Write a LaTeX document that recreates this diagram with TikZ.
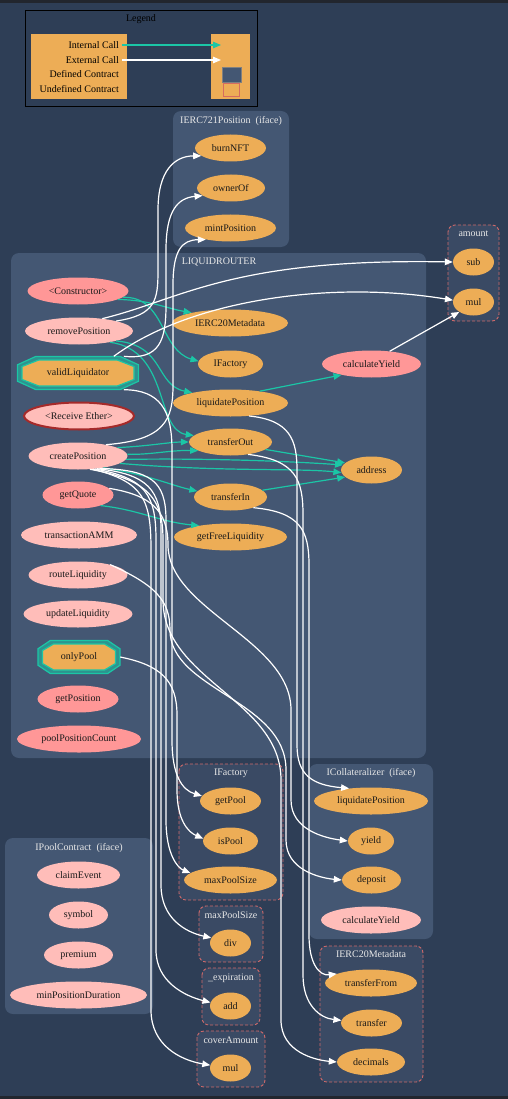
\documentclass[tikz,border=0pt]{standalone}
\usepackage{fontspec}
\setmainfont{Liberation Serif}
\usetikzlibrary{shapes.geometric,arrows.meta,calc}

\definecolor{canvas}{HTML}{2E3E56}
\definecolor{frame}{HTML}{22262E}
\definecolor{contract}{HTML}{445773}
\definecolor{undef}{HTML}{3A4A64}
\definecolor{undefline}{HTML}{D06A6A}
\definecolor{extfn}{HTML}{EDAD56}
\definecolor{pubfn}{HTML}{FF9797}
\definecolor{intfn}{HTML}{FFBDB9}
\definecolor{callint}{HTML}{1BC6A6}
\definecolor{payline}{HTML}{A52A2A}
\definecolor{labeltext}{HTML}{E8E8E8}

% stretched octagon path: centre x, centre y, width, height
\newcommand{\octa}[4]{({#1-0.5*(#3)},{#2-0.25*(#4)}) -- ({#1-0.35*(#3)},{#2-0.5*(#4)}) -- ({#1+0.35*(#3)},{#2-0.5*(#4)}) -- ({#1+0.5*(#3)},{#2-0.25*(#4)}) -- ({#1+0.5*(#3)},{#2+0.25*(#4)}) -- ({#1+0.35*(#3)},{#2+0.5*(#4)}) -- ({#1-0.35*(#3)},{#2+0.5*(#4)}) -- ({#1-0.5*(#3)},{#2+0.25*(#4)}) -- cycle}
% double octagon used for modifiers
\newcommand{\modifierbox}[4]{%
  \draw[callint, line width=1.2pt, fill=callint!55!contract] \octa{#1}{#2}{#3}{#4};
  \draw[callint, line width=1.2pt, fill=extfn] \octa{#1}{#2}{#3-9}{#4-7};}

\begin{document}
\begin{tikzpicture}[x=1pt, y=-1pt,
  font=\fontsize{10}{12}\selectfont,
  fn/.style={ellipse, inner sep=0pt, minimum height=27pt, text=black!90, minimum width=#1},
  xfn/.style={fn=#1, fill=extfn},
  pfn/.style={fn=#1, fill=pubfn},
  ifn/.style={fn=#1, fill=intfn},
  modnode/.style={rectangle, inner sep=0pt, minimum width=#1, minimum height=33pt, text=black!90},
  clab/.style={text=labeltext},
  cbox/.style={fill=contract, rounded corners=8pt},
  ubox/.style={fill=undef, draw=undefline, dash pattern=on 3pt off 2pt, line width=0.9pt, rounded corners=7pt},
  icall/.style={draw=callint, line width=1.2pt, -{Triangle[length=8pt,width=6.5pt]}},
  xcall/.style={draw=white, line width=1.2pt, -{Triangle[length=8pt,width=6.5pt]}},
]
\useasboundingbox (0,0) rectangle (508,1099);
\fill[canvas] (0,0) rectangle (508,1099);
\fill[frame] (0,0) rectangle (508,3);
\fill[frame] (0,1096) rectangle (508,1099);

% ---------- legend ----------
\draw[black, line width=0.8pt] (25,10) rectangle (257,106);
\node[text=black] (lgTitle) at (141,19) {Legend};
\fill[extfn] (31,34) rectangle (127,99);
\fill[extfn] (211,34) rectangle (250,99);
\node[anchor=east, text=black, inner sep=0pt] (lgInt) at (119,45) {Internal Call};
\node[anchor=east, text=black, inner sep=0pt] (lgExt) at (119,60) {External Call};
\node[anchor=east, text=black, inner sep=0pt] (lgDef) at (119,74) {Defined Contract};
\node[anchor=east, text=black, inner sep=0pt] (lgUnd) at (119,89) {Undefined Contract};
\coordinate (lgIntEnd) at (221,45);
\coordinate (lgExtEnd) at (221,60);
\draw[icall] ([xshift=3pt]lgInt.east) -- (lgIntEnd);
\draw[xcall] ([xshift=3pt]lgExt.east) -- (lgExtEnd);
\draw[fill=contract, draw=black!50, line width=0.5pt] (222,67) rectangle (241,82);
\draw[draw=undefline!90!orange, line width=0.6pt] (223,83) rectangle (239,96);

% ---------- contract boxes ----------
\fill[cbox] (173,111) rectangle (289,247);
\node[clab] (labNft) at (231,121) {IERC721Position\ \ (iface)};
\draw[ubox] (448,225) rectangle (499,321);
\node[clab] (labAmount) at (473.5,234) {amount};
\fill[cbox] (11,253) rectangle (426,758);
\node[clab] (labRouter) at (219,262) {LIQUIDROUTER};
\draw[ubox] (179,764) rectangle (283,900);
\node[clab] (labFactory) at (231,773) {IFactory};
\draw[ubox] (199,906) rectangle (263,962);
\node[clab] (labMax) at (231,915) {maxPoolSize};
\draw[ubox] (202,968) rectangle (260,1025);
\node[clab] (labExp) at (231,978) {\_expiration};
\draw[ubox] (197,1031) rectangle (265,1087);
\node[clab] (labCover) at (231,1040) {coverAmount};
\fill[cbox] (309,764) rectangle (433,939);
\node[clab] (labColl) at (371,773) {ICollateralizer\ \ (iface)};
\draw[ubox] (320,946) rectangle (423,1082);
\node[clab] (labErc) at (371,954) {IERC20Metadata};
\fill[cbox] (5,838) rectangle (153,1014);
\node[clab] (labPool) at (79,848) {IPoolContract\ \ (iface)};

% ---------- router functions ----------
\node[pfn=101] (ctor) at (78,291) {<Constructor>};
\node[ifn=108] (rp) at (79,331) {removePosition};
\modifierbox{78}{373}{121}{33}
\node[modnode=121] (vl) at (78,373) {validLiquidator};
\node[ifn=110, draw=payline, line width=2pt] (recv) at (79,416) {<Receive Ether>};
\node[ifn=99] (cp) at (78,456) {createPosition};
\node[pfn=71] (gq) at (78,495) {getQuote};
\node[ifn=116] (amm) at (79,535) {transactionAMM};
\node[ifn=99] (rl) at (78,575) {routeLiquidity};
\node[ifn=109] (ul) at (78,614) {updateLiquidity};
\modifierbox{79}{657}{82}{33}
\node[modnode=82] (op) at (79,657) {onlyPool};
\node[pfn=81] (gp) at (78,699) {getPosition};
\node[pfn=124] (ppc) at (79,739) {poolPositionCount};

\node[xfn=116] (mIERC) at (230,323) {IERC20Metadata};
\node[xfn=65] (mIF) at (230.5,364) {IFactory};
\node[xfn=115] (mLP) at (230.5,403) {liquidatePosition};
\node[xfn=83] (tOut) at (230.5,442) {transferOut};
\node[xfn=73] (tIn) at (230.5,497) {transferIn};
\node[xfn=113] (gfl) at (230.5,537) {getFreeLiquidity};
\node[pfn=99] (cy) at (371.5,364) {calculateYield};
\node[xfn=61] (addr) at (371.5,470) {address};

% ---------- external contracts ----------
\node[xfn=71] (burn) at (230.5,148) {burnNFT};
\node[xfn=68] (owner) at (231,188) {ownerOf};
\node[xfn=91] (mint) at (230.5,228) {mintPosition};
\node[xfn=41] (sub) at (473.5,262) {sub};
\node[xfn=41] (amul) at (473.5,302) {mul};

\node[xfn=61] (getPool) at (230.5,801) {getPool};
\node[xfn=55] (isPool) at (230.5,841) {isPool};
\node[xfn=93] (mps) at (230.5,880) {maxPoolSize};
\node[xfn=41] (div) at (230.5,943) {div};
\node[xfn=41] (add) at (230.5,1006) {add};
\node[xfn=41] (cmul) at (230.5,1068) {mul};

\node[xfn=114] (colLP) at (371,801) {liquidatePosition};
\node[xfn=46] (yield) at (371,841) {yield};
\node[xfn=59] (deposit) at (371.5,880) {deposit};
\node[ifn=100] (ccy) at (371,920) {calculateYield};
\node[xfn=92] (tFrom) at (371,983) {transferFrom};
\node[xfn=61] (transfer) at (371.5,1023) {transfer};
\node[xfn=68] (decimals) at (371,1062) {decimals};

\node[ifn=83] (claim) at (78.5,875) {claimEvent};
\node[ifn=59] (symbol) at (78.5,915) {symbol};
\node[ifn=69] (premium) at (78.5,955) {premium};
\node[ifn=137] (mpd) at (78.5,995) {minPositionDuration};

% ---------- internal calls ----------
\draw[icall] (ctor.-12) .. controls (150,300) and (165,308) .. (mIERC.165);
\draw[icall] (ctor.-8) .. controls (165,296) and (160,350) .. (mIF.175);
\draw[icall] (rp.-15) .. controls (165,345) and (155,385) .. (mLP.165);
\draw[icall] (rp.-20) .. controls (170,350) and (155,430) .. (tOut.170);
\draw[icall] (cp.12) .. controls (150,446) and (170,442) .. (tOut.180);
\draw[icall] (cp.2) .. controls (150,455) and (170,450) .. (tOut.195);
\draw[icall] (cp.-4) .. controls (220,458) and (300,462) .. (addr.170);
\draw[icall] (cp.-10) .. controls (220,472) and (300,468) .. (addr.185);
\draw[icall] (cp.-25) .. controls (150,475) and (170,485) .. (tIn.170);
\draw[icall] (gq.-25) .. controls (140,510) and (160,522) .. (gfl.160);
\draw[icall] (mLP.22) -- (cy.200);
\draw[icall] (tOut.-12) -- (addr.165);
\draw[icall] (tIn.12) -- (addr.195);

% ---------- external calls: up to the NFT contract and amount ----------
\draw[xcall] (rp.15) .. controls (156,315) and (158,300) .. (158,270)
  -- (158,210) .. controls (158,170) and (175,156) .. (burn.195);
\draw[xcall] (vl.20) .. controls (160,360) and (166,340) .. (166,305)
  -- (166,250) .. controls (166,210) and (178,198) .. (owner.195);
\draw[xcall] (cp.22) .. controls (165,440) and (173,420) .. (173,385)
  -- (173,285) .. controls (173,250) and (182,240) .. (mint.205);
\draw[xcall] (rp.28) .. controls (180,300) and (230,258) .. (sub.180);
\draw[xcall] (vl.25) .. controls (190,300) and (330,280) .. (amul.175);
\draw[xcall] (cy.35) -- (amul.215);

% ---------- external calls: left lane, down to the factory and math ----------
\draw[xcall] (vl.-20) .. controls (160,390) and (172,410) .. (172,450)
  -- (172,740) .. controls (172,775) and (182,790) .. (getPool.170);
\draw[xcall] (op.east) .. controls (160,665) and (177,680) .. (177,715)
  -- (177,790) .. controls (177,820) and (188,832) .. (isPool.175);
\draw[xcall] (cp.-30) .. controls (150,470) and (166,480) .. (166,520)
  -- (166,820) .. controls (166,855) and (178,868) .. (mps.170);
\draw[xcall] (cp.-34) .. controls (148,474) and (161,490) .. (161,530)
  -- (161,885) .. controls (161,918) and (185,932) .. (div.165);
\draw[xcall] (cp.-38) .. controls (146,478) and (156,495) .. (156,540)
  -- (156,950) .. controls (156,982) and (185,996) .. (add.170);
\draw[xcall] (cp.-42) .. controls (144,482) and (151,500) .. (151,550)
  -- (151,1010) .. controls (151,1045) and (180,1060) .. (cmul.172);

% ---------- external calls: right lane, down to collateralizer and token ----------
\draw[xcall] (mLP.-35) .. controls (290,420) and (297,440) .. (297,470)
  -- (297,745) .. controls (297,775) and (312,785) .. (colLP.150);
\draw[xcall] (tOut.-35) .. controls (296,460) and (303,480) .. (303,515)
  -- (303,975) .. controls (303,1005) and (320,1018) .. (transfer.175);
\draw[xcall] (tIn.-25) .. controls (300,512) and (309,530) .. (309,565)
  -- (309,935) .. controls (309,965) and (320,976) .. (tFrom.165);
\draw[xcall] (gq.12) .. controls (150,495) and (168,510) .. (168,545)
  .. controls (168,610) and (291,640) .. (291,710) -- (291,800)
  .. controls (291,830) and (325,838) .. (yield.180);
\draw[xcall] (rl.18) .. controls (155,585) and (170,600) .. (170,630)
  .. controls (170,690) and (286,700) .. (286,770) -- (286,840)
  .. controls (286,870) and (320,878) .. (deposit.180);
\draw[xcall] (cp.-48) .. controls (150,480) and (163,500) .. (163,540)
  -- (163,600) .. controls (163,680) and (281,700) .. (281,780) -- (281,1020)
  .. controls (281,1052) and (315,1060) .. (decimals.180);
\end{tikzpicture}
\end{document}
